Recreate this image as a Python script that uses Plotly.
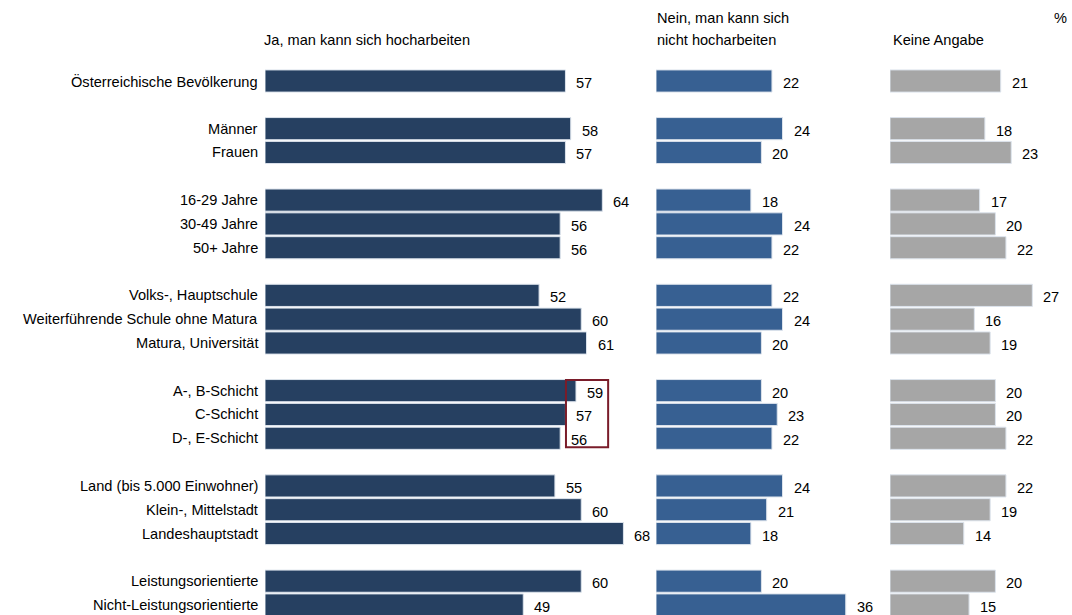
import plotly.graph_objects as go

labels = ["Österreichische Bevölkerung", "", "Männer", "Frauen", "",
          "16-29 Jahre", "30-49 Jahre", "50+ Jahre", "",
          "Volks-, Hauptschule", "Weiterführende Schule ohne Matura", "Matura, Universität", "",
          "A-, B-Schicht", "C-Schicht", "D-, E-Schicht", "",
          "Land (bis 5.000 Einwohner)", "Klein-, Mittelstadt", "Landeshauptstadt", "",
          "Leistungsorientierte", "Nicht-Leistungsorientierte"]
ja = [57, None, 58, 57, None, 64, 56, 56, None, 52, 60, 61, None, 59, 57, 56, None, 55, 60, 68, None, 60, 49]
nein = [22, None, 24, 20, None, 18, 24, 22, None, 22, 24, 20, None, 20, 23, 22, None, 24, 21, 18, None, 20, 36]
keine = [21, None, 18, 23, None, 17, 20, 22, None, 27, 16, 19, None, 20, 20, 22, None, 22, 19, 14, None, 20, 15]
headers = ["Ja, man kann sich hocharbeiten", "Nein, man kann sich", "nicht hocharbeiten", "Keine Angabe"]
colors = ["#264061", "#376092", "#A6A6A6"]
highlight_rows = [13, 15]

W = 1072
FONT = "Liberation Sans, Arial, sans-serif"
FS = 14.6
pos = list(range(len(labels)))
ppu = 5.271
starts = [265, 656, 890]
ranges = [70, 40, 30]

fig = go.Figure()
series = [ja, nein, keine]
axes = ["x", "x2", "x3"]
annotations = []
for i, (vals, ax) in enumerate(zip(series, axes)):
    fig.add_trace(go.Bar(
        x=vals, y=pos, orientation="h", xaxis=ax, yaxis="y",
        marker=dict(color=colors[i], line=dict(color="#DCE3EC", width=1)),
        width=0.93, showlegend=False, hoverinfo="skip"))
    for p, v in zip(pos, vals):
        if v is None:
            continue
        annotations.append(dict(x=v, y=p, xref=ax, yref="y", text=str(v),
                                showarrow=False, xanchor="left", xshift=9, yshift=-2,
                                font=dict(size=FS, color="#000000", family=FONT)))

for label, p in zip(labels, pos):
    if label:
        annotations.append(dict(x=(starts[0] - 5) / W, y=p, xref="paper", yref="y", text=label,
                                showarrow=False, xanchor="right",
                                font=dict(size=FS, color="#000000", family=FONT)))

layout_axes = {}
for i, ax in enumerate(["xaxis", "xaxis2", "xaxis3"]):
    d0 = starts[i] / W
    d1 = (starts[i] + ranges[i] * ppu) / W
    layout_axes[ax] = dict(domain=[d0, d1], range=[0, ranges[i]], visible=False,
                           fixedrange=True, anchor="y")
fig.update_layout(**layout_axes)

def header(text, x, shift, anchor):
    annotations.append(dict(x=x / W, y=1, xref="paper", yref="paper", yshift=shift, text=text,
                            showarrow=False, xanchor=anchor, yanchor="middle",
                            font=dict(size=FS, color="#000000", family=FONT)))

header(headers[0], 367, 20, "center")
header(headers[1], 655, 42, "left")
header(headers[2], 655, 20, "left")
header(headers[3], 891, 20, "left")
header("%", 1060, 42, "center")

fig.update_layout(
    width=W, height=615,
    margin=dict(l=0, r=0, t=60, b=0),
    paper_bgcolor="white", plot_bgcolor="white",
    yaxis=dict(range=[22.42, -0.882], visible=False, fixedrange=True, domain=[0, 1]),
    bargap=0.07,
    annotations=annotations,
    shapes=[dict(type="rect", xref="x", yref="y", x0=57.1, x1=65.1,
                 y0=highlight_rows[0] - 0.45, y1=highlight_rows[1] + 0.38,
                 line=dict(color="#7A1C2A", width=2), fillcolor="rgba(0,0,0,0)")],
)

fig.write_html("out.html")
